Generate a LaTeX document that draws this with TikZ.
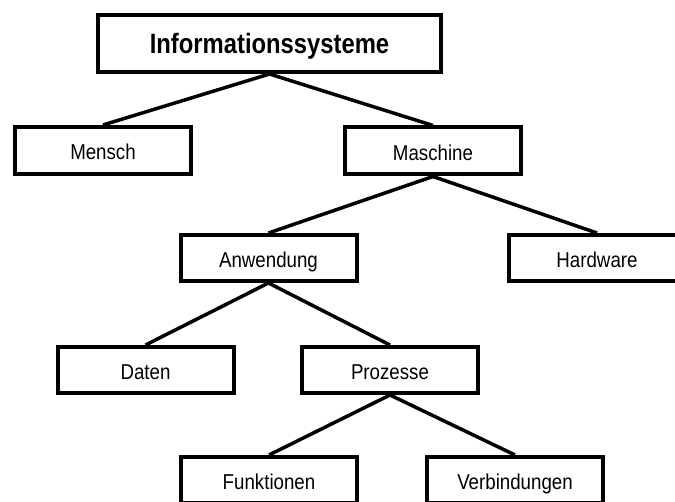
\documentclass[tikz,border=0pt]{standalone}
\usepackage{fontspec}
\setmainfont{Liberation Sans}
\newfontfamily\labelfont[FakeStretch=0.87]{Liberation Sans}
\newfontfamily\rootfont[FakeStretch=0.85]{Liberation Sans Bold}
\begin{document}
\begin{tikzpicture}[x=1pt,y=-1pt,
  box/.style={draw=black, fill=white, line width=4pt, inner sep=0pt,
    minimum width=176pt, minimum height=47pt,
    text height=21pt, text depth=2pt,
    font=\labelfont\fontsize{21.5}{24}\selectfont},
  rootbox/.style={box, minimum width=343pt, minimum height=57pt,
    text height=23pt, text depth=2pt,
    font=\rootfont\fontsize{28}{32}\selectfont},
  link/.style={line width=3.5pt, draw=black}]
  \useasboundingbox (0,0) rectangle (675,502);
  \clip (0,0) rectangle (675,502);
  % the tree's boxes
  \node[rootbox] (root) at (269.5,43.5) {Informationssysteme};
  \node[box] (mensch) at (103,150.5) {Mensch};
  \node[box] (maschine) at (433,151) {Maschine};
  \node[box, minimum height=46pt] (anw) at (268.5,258) {Anwendung};
  \node[box, minimum height=46pt] (hw) at (597,258) {Hardware};
  \node[box, minimum height=46pt] (daten) at (145.5,370) {Daten};
  \node[box, minimum height=46pt] (proz) at (390,370) {Prozesse};
  \node[box, minimum height=46pt] (funk) at (269,480) {Funktionen};
  \node[box, minimum height=46pt] (verb) at (515,480) {Verbindungen};
  % parent-child links
  \draw[link] (root.south) -- (mensch.north);
  \draw[link] (root.south) -- (maschine.north);
  \draw[link] (maschine.south) -- (anw.north);
  \draw[link] (maschine.south) -- (hw.north);
  \draw[link] (anw.south) -- (daten.north);
  \draw[link] (anw.south) -- (proz.north);
  \draw[link] (proz.south) -- (funk.north);
  \draw[link] (proz.south) -- (verb.north);
\end{tikzpicture}
\end{document}
